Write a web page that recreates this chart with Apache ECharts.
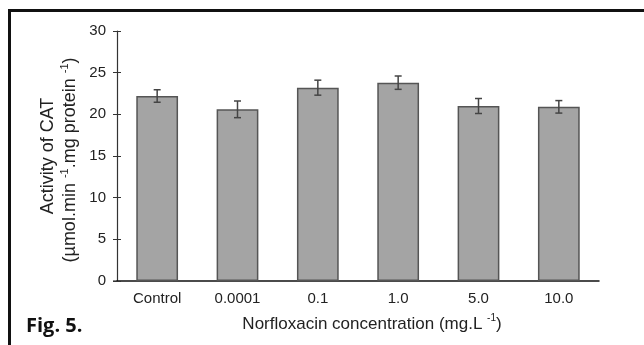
<!DOCTYPE html>
<html><head><meta charset="utf-8">
<script src="https://cdn.jsdelivr.net/npm/echarts@6/dist/echarts.min.js"></script>
<style>html,body{margin:0;padding:0;background:#fff}#c{width:644px;height:345px}</style>
</head><body><div id="c"></div>
<script>
const categories = ['Control', '0.0001', '0.1', '1.0', '5.0', '10.0'];
const activity = [22.2, 20.6, 23.2, 23.8, 21.0, 20.9];
const errors = [0.75, 1.0, 0.9, 0.8, 0.9, 0.75];
const yTicks = [0, 5, 10, 15, 20, 25, 30];

const chart = echarts.init(document.getElementById('c'), null, {renderer: 'canvas'});
const font = '"Liberation Sans", Arial, sans-serif';
const errData = categories.map((c, i) => [i, activity[i] - errors[i], activity[i] + errors[i]]);

chart.setOption({
  animation: false,
  backgroundColor: '#fff',
  grid: {left: 117, right: 45, top: 31, bottom: 64},
  xAxis: {
    type: 'category', data: categories,
    axisLine: {lineStyle: {color: '#111', width: 1.5}},
    axisTick: {show: false},
    axisLabel: {color: '#222', fontFamily: font, fontSize: 15, margin: 10}
  },
  yAxis: [{
    type: 'value', min: yTicks[0], max: yTicks[yTicks.length - 1], interval: 5,
    axisLine: {show: true, lineStyle: {color: '#333', width: 1.2}},
    axisTick: {show: true, length: 4, lineStyle: {color: '#333'}},
    axisLabel: {color: '#222', fontFamily: font, fontSize: 15, margin: 11},
    splitLine: {show: false}
  }, {
    type: 'value', position: 'left', offset: 0, min: yTicks[0], max: yTicks[yTicks.length - 1], interval: 5,
    axisLine: {show: false},
    axisTick: {show: true, inside: true, length: 4, lineStyle: {color: '#333'}},
    axisLabel: {show: false}, splitLine: {show: false}
  }],
  series: [{
    type: 'bar', data: activity, barWidth: '52%',
    itemStyle: {color: '#a4a4a4', borderColor: '#555', borderWidth: 1.5}
  }, {
    type: 'custom', data: errData, z: 10,
    renderItem: function (params, api) {
      const x = api.value(0);
      const lo = api.coord([x, api.value(1)]);
      const hi = api.coord([x, api.value(2)]);
      const hw = 3.5;
      const st = {stroke: '#444', lineWidth: 1.5};
      return {type: 'group', children: [
        {type: 'line', shape: {x1: lo[0], y1: lo[1], x2: hi[0], y2: hi[1]}, style: st},
        {type: 'line', shape: {x1: lo[0] - hw, y1: lo[1], x2: lo[0] + hw, y2: lo[1]}, style: st},
        {type: 'line', shape: {x1: hi[0] - hw, y1: hi[1], x2: hi[0] + hw, y2: hi[1]}, style: st}
      ]};
    }
  }],
  graphic: [
    {type: 'rect', shape: {x: 8, y: 9, width: 640, height: 3}, style: {fill: '#111'}},
    {type: 'rect', shape: {x: 8, y: 9, width: 3, height: 340}, style: {fill: '#111'}},
    {type: 'rect', shape: {x: 113, y: 280.5, width: 5, height: 1.5}, style: {fill: '#111'}},
    {type: 'text', x: 48, y: 156, rotation: Math.PI / 2,
      style: {text: 'Activity of CAT', font: '18px ' + font, fill: '#222', align: 'center', verticalAlign: 'middle'}},
    {type: 'text', x: 69, y: 160, rotation: Math.PI / 2,
      style: {text: '{n|(µmol.min }{s|-1}{n|.mg protein }{s|-1}{n|)}', align: 'center', verticalAlign: 'middle',
        rich: {n: {font: '18px ' + font, fill: '#222', lineHeight: 20, verticalAlign: 'bottom'},
               s: {font: '11px ' + font, fill: '#222', verticalAlign: 'top', lineHeight: 20}}}},
    {type: 'text', x: 372, y: 323,
      style: {text: '{n|Norfloxacin concentration (mg.L }{s|-1}{n|)}', align: 'center', verticalAlign: 'middle',
        rich: {n: {font: '17px ' + font, fill: '#222', lineHeight: 20, verticalAlign: 'bottom'},
               s: {font: '10px ' + font, fill: '#222', verticalAlign: 'top', lineHeight: 20}}}},
    {type: 'text', x: 26, y: 326,
      style: {text: 'Fig. 5.', font: 'bold 20px "Open Sans", sans-serif', fill: '#111', align: 'left', verticalAlign: 'middle'}}
  ]
});
</script></body></html>
